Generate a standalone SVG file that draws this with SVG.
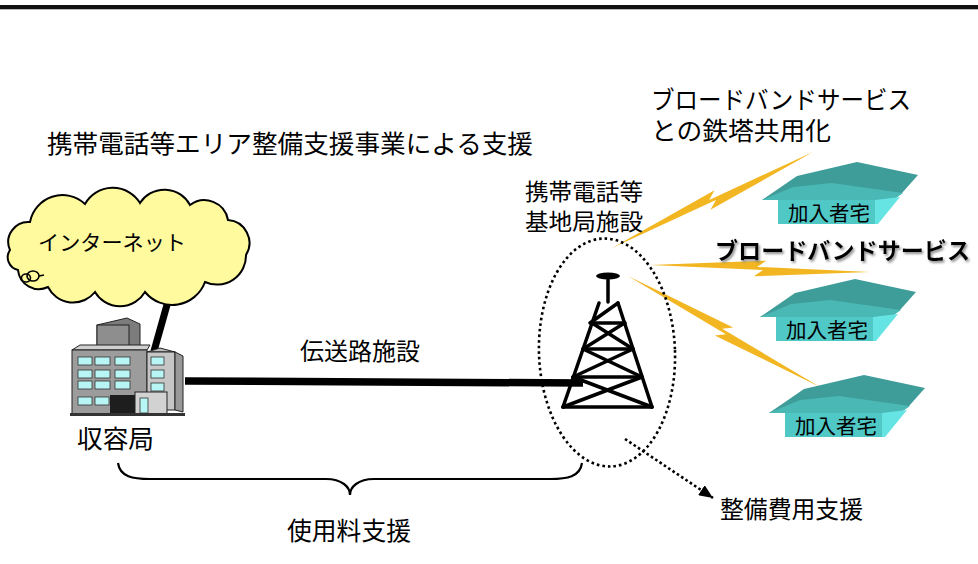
<svg xmlns="http://www.w3.org/2000/svg" width="978" height="564" viewBox="0 0 978 564">
<defs>
<style>
.t{font-family:"Noto Sans CJK JP","Noto Sans CJK SC",sans-serif;fill:#000;}
.bolt{fill:#f2b622;}
.tw{stroke:#000;stroke-width:3.5;fill:none;stroke-linecap:round;}
.roofd{fill:#3e9c99;}
.roofl{fill:#4ab8b4;}
.wall{fill:#4fc8c6;}
.side{fill:#66e4e4;}
.win{fill:#b8f6f6;stroke:#333;stroke-width:0.8;}
</style>
<marker id="ah" viewBox="0 0 14 12" refX="14" refY="6" markerWidth="14" markerHeight="12" markerUnits="userSpaceOnUse" orient="auto">
<path d="M0,0 L14,6 L0,12 z" fill="#000"/>
</marker>
<filter id="sh" x="-3%" y="-20%" width="106%" height="150%">
<feDropShadow dx="1.5" dy="2" stdDeviation="0.8" flood-color="#777" flood-opacity="0.8"/>
</filter>
<g id="house">
<polygon class="roofd" points="762,200 797,176 857,162 918,175 902,193 893,200"/>
<polygon class="roofl" points="762,200 793,187 832,183 903,193 893,200"/>
<rect class="wall" x="778" y="200" width="97" height="24"/>
<polygon class="side" points="875,200 900,197 878,224 875,224"/>
</g>
</defs>
<rect width="978" height="564" fill="#fff"/>
<rect x="0" y="5" width="978" height="4.3" fill="#111"/>

<text class="t" x="47" y="153" font-size="25" textLength="486" lengthAdjust="spacingAndGlyphs">携帯電話等エリア整備支援事業による支援</text>
<text class="t" font-size="24.5"><tspan x="651" y="108.5" textLength="260" lengthAdjust="spacingAndGlyphs">ブロードバンドサービス</tspan><tspan x="651" y="140" textLength="180" lengthAdjust="spacingAndGlyphs">との鉄塔共用化</tspan></text>

<g id="connectors">
<line x1="174" y1="280" x2="154" y2="351" stroke="#000" stroke-width="7"/>
<line x1="185" y1="381" x2="583" y2="383" stroke="#000" stroke-width="7.5"/>
<path d="M118,463 C120,477 133,479 150,479 L326,479 C342,479 350,487 350,495 C350,487 358,479 374,479 L550,479 C567,479 580,477 582,463" fill="none" stroke="#000" stroke-width="2.2"/>
<line x1="625" y1="439" x2="713" y2="498" stroke="#000" stroke-width="2.6" stroke-dasharray="2.6 2.6" marker-end="url(#ah)"/>
<polygon class="bolt" points="612,248 714.5,190.2 709.2,199.9 813,152 710.5,209.8 715.9,200.1"/>
<polygon class="bolt" points="650,265 766.3,260.7 757.1,266.9 870,272 753.8,276.3 763,270.1"/>
<polygon class="bolt" points="628,276 733.2,327.6 722.2,328.7 820,387 714.8,335.4 725.9,334.3"/>
</g>

<g id="internet">
<path d="M10,250 A20,20 0 0 1 30,222 A33,33 0 0 1 85,204 A32,32 0 0 1 140,203 A29,29 0 0 1 190,205 A24,24 0 0 1 228,220 A23,23 0 0 1 246,255 A29,29 0 0 1 205,282 A35,35 0 0 1 145,292 A29,29 0 0 1 95,292 A28,28 0 0 1 48,287 A21,21 0 0 1 18,270 A13,13 0 0 1 10,250 Z" fill="#fffa9e" stroke="#000" stroke-width="2"/>
<ellipse cx="26" cy="278" rx="4.5" ry="4" fill="none" stroke="#000" stroke-width="1.6"/>
<ellipse cx="33" cy="276" rx="6" ry="5" fill="none" stroke="#000" stroke-width="1.6"/>
<line x1="39" y1="276" x2="44" y2="275" stroke="#000" stroke-width="1.6"/>
<text class="t" x="38" y="250" font-size="21" textLength="148" lengthAdjust="spacingAndGlyphs">インターネット</text>
</g>

<g id="office">
<polygon points="97,325 127,318 140,324 140,352 97,352" fill="#7c7c7c" stroke="#222" stroke-width="1"/>
<rect x="97" y="325" width="32" height="27" fill="#8e8e8e" stroke="#222" stroke-width="1"/>
<polygon points="72,350 80,345 150,345 147,350" fill="#d0d0d0" stroke="#222" stroke-width="1"/>
<rect x="72" y="350" width="75" height="64" fill="#9c9c9c" stroke="#222" stroke-width="1"/>
<rect class="win" x="78" y="357" width="14" height="8"/>
<rect class="win" x="95" y="357" width="15" height="8"/>
<rect class="win" x="115" y="357" width="15" height="8"/>
<rect class="win" x="78" y="370" width="14" height="8"/>
<rect class="win" x="95" y="370" width="15" height="8"/>
<rect class="win" x="115" y="370" width="15" height="8"/>
<rect class="win" x="78" y="381" width="14" height="8"/>
<rect class="win" x="95" y="381" width="15" height="8"/>
<rect class="win" x="115" y="381" width="15" height="8"/>
<rect class="win" x="78" y="397" width="14" height="8"/>
<rect class="win" x="95" y="397" width="14" height="8"/>
<rect x="110" y="395" width="25" height="19" fill="#1e1e1e"/>
<polygon points="147,352 160,348 175,352 147,352" fill="#bbb" stroke="#222" stroke-width="1"/>
<rect x="147" y="352" width="28" height="58" fill="#c6c6c6" stroke="#222" stroke-width="1"/>
<polygon points="175,352 183,356 183,412 175,410" fill="#999" stroke="#222" stroke-width="1"/>
<rect class="win" x="151" y="357" width="13" height="8"/>
<rect class="win" x="151" y="370" width="13" height="8"/>
<rect class="win" x="151" y="383" width="13" height="8"/>
<rect x="135" y="392" width="32" height="22" fill="#d2d2d2" stroke="#222" stroke-width="1"/>
<rect x="140" y="398" width="8" height="15" fill="#b8f6f6" stroke="#333" stroke-width="0.8"/>
<rect x="70" y="413" width="115" height="3" fill="#333"/>
</g>
<text class="t" x="77" y="448" font-size="25" textLength="77" lengthAdjust="spacingAndGlyphs">収容局</text>

<text class="t" x="300" y="360" font-size="24" textLength="120" lengthAdjust="spacingAndGlyphs">伝送路施設</text>

<g id="tower">
<ellipse cx="607" cy="352.5" rx="68" ry="114" transform="rotate(-2 607 352.5)" fill="none" stroke="#000" stroke-width="2.6" stroke-dasharray="2.6 3"/>
<ellipse cx="608" cy="276" rx="12" ry="3.5" fill="#000"/>
<line class="tw" x1="608" y1="276" x2="608" y2="302"/>
<line class="tw" x1="599" y1="303" x2="563" y2="407"/>
<line class="tw" x1="618" y1="303" x2="652" y2="407"/>
<line class="tw" x1="618" y1="303" x2="590" y2="323"/>
<line class="tw" x1="591" y1="323" x2="625" y2="323"/>
<line class="tw" x1="583" y1="349" x2="633" y2="349"/>
<line class="tw" x1="573" y1="377" x2="642" y2="377"/>
<line class="tw" x1="563" y1="407" x2="652" y2="407"/>
<line class="tw" x1="592" y1="323" x2="633" y2="349"/>
<line class="tw" x1="624.5" y1="323" x2="583" y2="349"/>
<line class="tw" x1="583" y1="349" x2="642" y2="377"/>
<line class="tw" x1="633" y1="349" x2="573" y2="377"/>
<line class="tw" x1="573" y1="377" x2="652" y2="407"/>
<line class="tw" x1="642" y1="377" x2="563" y2="407"/>
<text class="t" font-size="23"><tspan x="525" y="200" textLength="118" lengthAdjust="spacingAndGlyphs">携帯電話等</tspan><tspan x="525" y="230" textLength="118" lengthAdjust="spacingAndGlyphs">基地局施設</tspan></text>
</g>

<g id="house1">
<use href="#house"/>
<text class="t" x="788" y="220.5" font-size="20.5" textLength="82" lengthAdjust="spacingAndGlyphs">加入者宅</text>
</g>
<g id="house2" transform="translate(-2,117)">
<use href="#house"/>
<text class="t" x="788" y="220.5" font-size="20.5" textLength="82" lengthAdjust="spacingAndGlyphs">加入者宅</text>
</g>
<g id="house3" transform="translate(7,213)">
<use href="#house"/>
<text class="t" x="788" y="220.5" font-size="20.5" textLength="82" lengthAdjust="spacingAndGlyphs">加入者宅</text>
</g>

<text class="t" x="715" y="258.5" font-size="23.2" font-weight="bold" textLength="255" lengthAdjust="spacingAndGlyphs" filter="url(#sh)">ブロードバンドサービス</text>

<text class="t" x="287" y="540" font-size="25" textLength="124" lengthAdjust="spacingAndGlyphs">使用料支援</text>
<text class="t" x="720" y="518" font-size="24" textLength="143" lengthAdjust="spacingAndGlyphs">整備費用支援</text>
</svg>
